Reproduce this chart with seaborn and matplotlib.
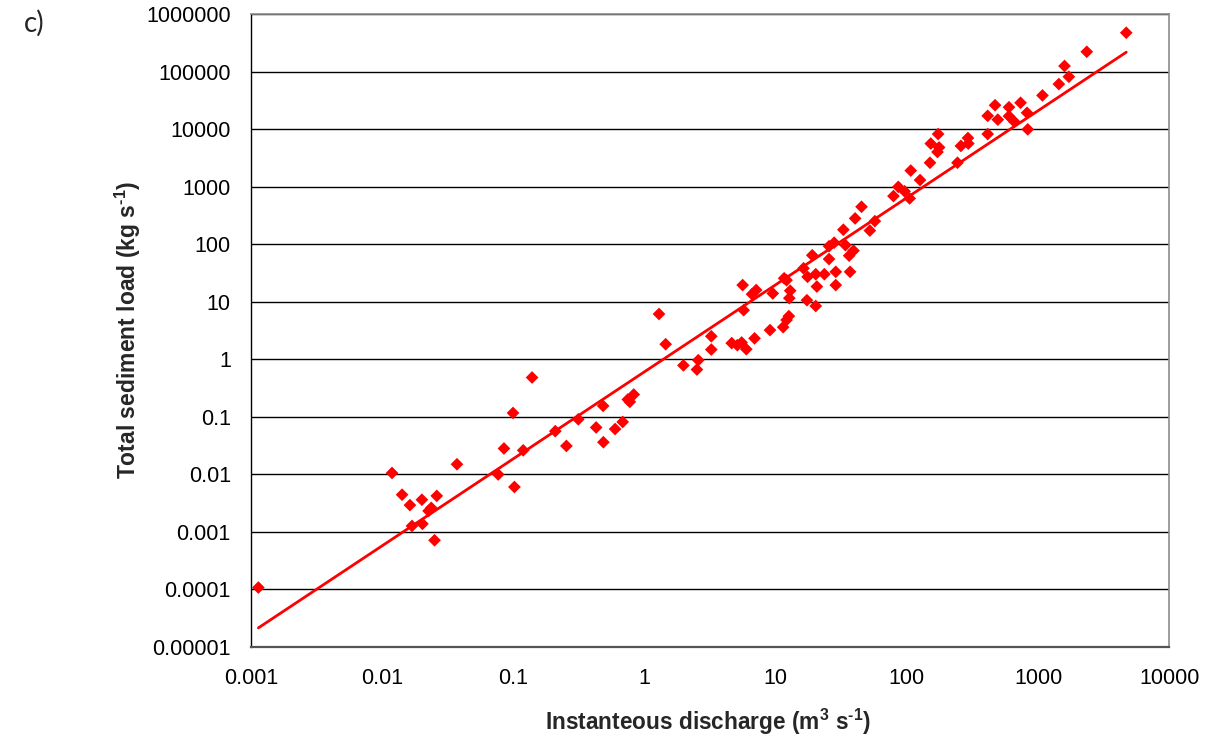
import numpy as np
import pandas as pd
import matplotlib
matplotlib.use('Agg')
import matplotlib.pyplot as plt
import seaborn as sns
from matplotlib.ticker import FixedLocator, FixedFormatter, NullLocator

# discharge (m3/s) and total sediment load (kg/s)
discharge = [0.00114, 0.0119, 0.0142, 0.0163, 0.0169, 0.0201, 0.0203, 0.0226, 0.0237, 0.0251,
             0.0261, 0.0372, 0.0767, 0.0849, 0.0995, 0.102, 0.119, 0.139, 0.209, 0.254,
             0.313, 0.428, 0.484, 0.486, 0.597, 0.682, 0.746, 0.773, 0.828, 1.29,
             1.45, 1.98, 2.51, 2.57, 3.23, 3.23, 4.62, 5.1, 5.5, 5.97,
             6.9, 5.7, 5.6, 6.6, 7.1, 9.05, 9.5, 11.4, 12.1, 12.6,
             11.6, 12.1, 12.9, 12.7, 16.3, 17.3, 17.5, 19.0, 20.2, 20.6,
             20.2, 23.5, 25.5, 25.5, 27.9, 28.7, 28.7, 32.8, 34.0, 36.9,
             36.3, 39.2, 40.3, 45.1, 52.2, 57.0, 79.0, 86.0, 96.0, 105.0,
             107.0, 126.0, 150.0, 152.0, 173.0, 171.0, 176.0, 243.0, 258.0, 292.0,
             294.0, 413.0, 413.0, 470.0, 493.0, 600.0, 600.0, 660.0, 735.0, 824.0,
             834.0, 1080.0, 1440.0, 1590.0, 1716.0, 2350.0, 4700.0]
sediment = [1.07e-4, 0.0105, 0.0044, 0.0029, 0.00126, 0.0036, 0.00137, 0.0023, 0.0026, 0.00071,
            0.0042, 0.0149, 0.0099, 0.028, 0.116, 0.006, 0.026, 0.48, 0.056, 0.031,
            0.09, 0.065, 0.154, 0.036, 0.061, 0.081, 0.199, 0.181, 0.243, 6.1,
            1.82, 0.78, 0.66, 0.96, 1.47, 2.5, 1.9, 1.75, 1.95, 1.49,
            2.3, 7.1, 19.4, 13.5, 15.9, 3.2, 13.9, 3.6, 4.8, 5.6,
            25.5, 23.6, 15.5, 11.5, 38.0, 10.6, 27.0, 64.0, 8.4, 18.3,
            30.0, 30.0, 55.0, 92.0, 106.0, 33.0, 19.4, 178.0, 96.0, 33.0,
            63.0, 77.0, 280.0, 446.0, 172.0, 251.0, 684.0, 990.0, 830.0, 623.0,
            1900.0, 1300.0, 2600.0, 5600.0, 8200.0, 4000.0, 4800.0, 2600.0, 5100.0, 7000.0,
            5600.0, 8200.0, 17000.0, 26000.0, 14600.0, 24000.0, 16800.0, 13400.0, 28700.0, 19200.0,
            9900.0, 38500.0, 60600.0, 125000.0, 81300.0, 221000.0, 473000.0]

# power trendline y = a * x^b as drawn on the chart
trend_a = 0.604
trend_b = 1.513

x_ticks = [0.001, 0.01, 0.1, 1, 10, 100, 1000, 10000]
x_labels = ['0.001', '0.01', '0.1', '1', '10', '100', '1000', '10000']
y_ticks = [1e-5, 1e-4, 1e-3, 1e-2, 1e-1, 1, 10, 100, 1e3, 1e4, 1e5, 1e6]
y_labels = ['0.00001', '0.0001', '0.001', '0.01', '0.1', '1', '10', '100',
            '1000', '10000', '100000', '1000000']

df = pd.DataFrame({'Q': discharge, 'Qs': sediment})
trend = pd.DataFrame({'Q': np.geomspace(df['Q'].min(), df['Q'].max(), 50)})
trend['Qs'] = trend_a * trend['Q'] ** trend_b

sns.set_style('white')
plt.rcParams['font.family'] = ['Liberation Sans', 'DejaVu Sans']
plt.rcParams['mathtext.fontset'] = 'custom'
plt.rcParams['mathtext.rm'] = 'Liberation Sans:bold'
plt.rcParams['mathtext.bf'] = 'Liberation Sans:bold'

fig = plt.figure(figsize=(12.18, 7.40), dpi=100)
ax = fig.add_axes([0.206, 0.126, 0.754, 0.855])

sns.lineplot(data=trend, x='Q', y='Qs', ax=ax, color='#ff0000', linewidth=2.0, zorder=2)
sns.scatterplot(data=df, x='Q', y='Qs', ax=ax, marker='D', color='#ff0000', s=42,
                edgecolor='none', linewidth=0, zorder=3)

ax.set_xscale('log')
ax.set_yscale('log')
ax.set_xlim(0.001, 10000)
ax.set_ylim(1e-5, 1e6)
ax.xaxis.set_major_locator(FixedLocator(x_ticks))
ax.xaxis.set_major_formatter(FixedFormatter(x_labels))
ax.yaxis.set_major_locator(FixedLocator(y_ticks))
ax.yaxis.set_major_formatter(FixedFormatter(y_labels))
ax.xaxis.set_minor_locator(NullLocator())
ax.yaxis.set_minor_locator(NullLocator())

ax.grid(axis='y', color='black', linewidth=1.0)
ax.grid(axis='x', visible=False)
ax.set_axisbelow(True)

for side in ['top', 'right']:
    ax.spines[side].set_color('#8c8c8c')
    ax.spines[side].set_linewidth(1.2)
ax.spines['left'].set_color('black')
ax.spines['bottom'].set_color('#555555')
ax.spines['left'].set_linewidth(1.0)
ax.spines['bottom'].set_linewidth(1.6)

ax.tick_params(axis='both', which='major', direction='out', length=5.5, width=1,
               color='black', labelsize=15.5, labelcolor='black')
ax.tick_params(axis='x', pad=10)
ax.tick_params(axis='y', pad=9)

ax.set_xlabel(r'Instanteous discharge (m$^{\text{3}}$ s$^{\text{-1}}$)',
              fontsize=16.3, fontweight='bold')
ax.set_ylabel(r'Total sediment load (kg s$^{\text{-1}}$)',
              fontsize=16.5, fontweight='bold')
ax.xaxis.set_label_coords(0.498, -0.1185)
ax.xaxis.label.set_va('center')
ax.yaxis.set_label_coords(-0.134, 0.5)
ax.yaxis.label.set_va('center')

fig.text(0.020, 0.969, 'c)', fontsize=20, family=['Lato', 'DejaVu Sans'],
         va='center', ha='left')

fig.savefig('out.png', dpi=100)
